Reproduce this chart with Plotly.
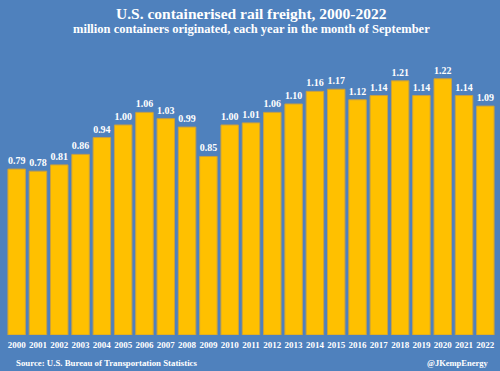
import plotly.graph_objects as go

years = [str(y) for y in range(2000, 2023)]
values = [0.79, 0.78, 0.81, 0.86, 0.94, 1.00, 1.06, 1.03, 0.99, 0.85, 1.00, 1.01,
          1.06, 1.10, 1.16, 1.17, 1.12, 1.14, 1.21, 1.14, 1.22, 1.14, 1.09]
labels = [f"<b>{v:.2f}</b>" for v in values]
tick_labels = [f"<b>{y}</b>" for y in years]

BG = "#4F81BD"
FONT = "Liberation Serif"

W = 500; H = 371
L = 6; R = 4; T = 50; B = 36
pw = W - L - R
ph = H - T - B

def px(xpix):
    return (xpix - L) / pw

def py(ypix):
    return (H - B - ypix) / ph

fig = go.Figure(go.Bar(
    x=years, y=values, text=labels, textposition="outside",
    textfont=dict(family=FONT, size=10, color="white"),
    marker=dict(color="#FFC000", line=dict(color="#C9A040", width=1)),
    cliponaxis=False,
))

fig.update_layout(
    width=W, height=H,
    paper_bgcolor=BG, plot_bgcolor=BG,
    margin=dict(l=L, r=R, t=T, b=B),
    bargap=0.18,
    showlegend=False,
    font=dict(family=FONT, color="white"),
    xaxis=dict(showgrid=False, zeroline=False, showline=False, ticks="",
               tickmode="array", tickvals=years, ticktext=tick_labels,
               ticklabelstandoff=3,
               tickfont=dict(family=FONT, size=9, color="white"), tickangle=0),
    yaxis=dict(range=[0, 1.357], visible=False),
)

fig.add_annotation(text="<b>U.S. containerised rail freight, 2000-2022</b>",
                   x=px(251), y=py(13), xref="paper", yref="paper", showarrow=False,
                   yanchor="middle", font=dict(family=FONT, size=15.5, color="white"))
fig.add_annotation(text="<b>million containers originated, each year in the month of September</b>",
                   x=px(251), y=py(29), xref="paper", yref="paper", showarrow=False,
                   yanchor="middle", font=dict(family=FONT, size=12.5, color="white"))
fig.add_annotation(text="<b>Source: U.S. Bureau of Transportation Statistics</b>",
                   x=px(14), y=py(363), xref="paper", yref="paper", showarrow=False,
                   xanchor="left", yanchor="middle", font=dict(family=FONT, size=8.8, color="white"))
fig.add_annotation(text="<b>@JKempEnergy</b>",
                   x=px(491), y=py(363), xref="paper", yref="paper", showarrow=False,
                   xanchor="right", yanchor="middle", font=dict(family=FONT, size=8.5, color="white"))

fig.write_html("out.html", config={"displayModeBar": False},
               post_script="document.body.style.margin='0';document.body.style.overflow='hidden';")
